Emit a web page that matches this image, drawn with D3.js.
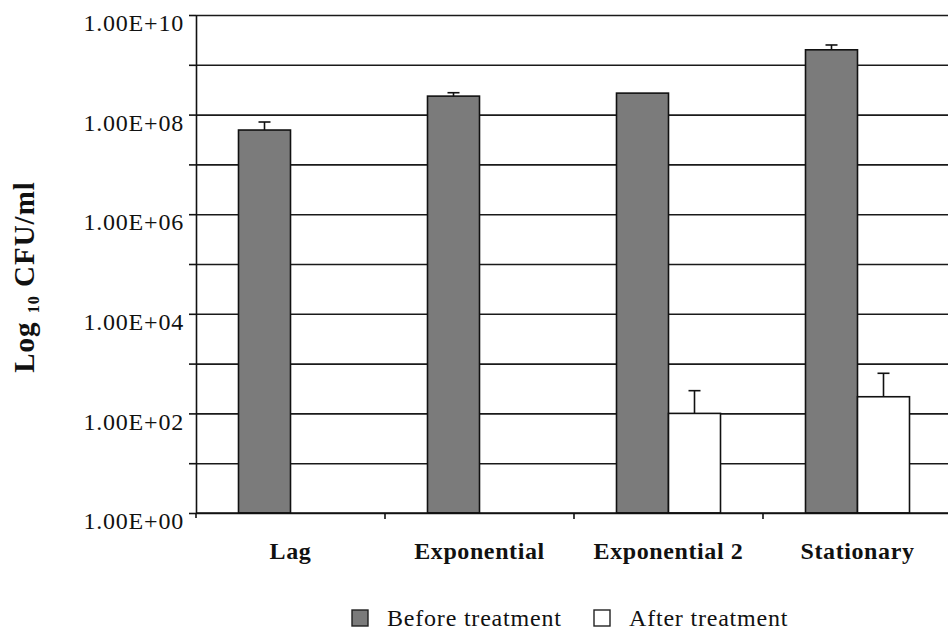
<!DOCTYPE html>
<html lang="en">
<head>
  <meta charset="UTF-8">
  <title>Log10 CFU/ml before and after treatment</title>
  <script src="https://d3js.org/d3.v7.min.js"></script>
  <style>
    html, body { margin: 0; padding: 0; background: #fff; }
    svg { display: block; }
  </style>
</head>
<body>
  <div id="chart"></div>

  <script>
    // Growth phases
    const categories = ['Lag', 'Exponential', 'Exponential 2', 'Stationary'];

    // Series (CFU/ml), null = nothing recovered
    const seriesNames = ['Before treatment', 'After treatment'];
    const beforeValues = [4.9e7, 2.35e8, 2.7e8, 2.0e9];
    const beforeErrors = [2.2e7, 4.0e7, 0, 5.0e8];
    const afterValues = [null, null, 100, 216];
    const afterErrors = [null, null, 186, 423];

    // Axis ticks (every decade, labels on even decades)
    const yTicks = [1, 1e1, 1e2, 1e3, 1e4, 1e5, 1e6, 1e7, 1e8, 1e9, 1e10];
    const yTickLabels = ['1.00E+00', '', '1.00E+02', '', '1.00E+04', '', '1.00E+06', '', '1.00E+08', '', '1.00E+10'];

    function renderChart() {
      const W = 948, H = 632;
      const left = 196, right = 952, top = 15, bottom = 513;

      const svg = d3.select('#chart')
        .append('svg')
        .attr('width', W)
        .attr('height', H)
        .attr('viewBox', `0 0 ${W} ${H}`)
        .style('font-family', '"Liberation Serif", "Times New Roman", serif');

      const x = d3.scaleBand().domain(categories).range([left, right]).padding(0);
      const groupW = 104;
      const xs = d3.scaleBand().domain(seriesNames).range([0, groupW]).padding(0);
      const y = d3.scaleLog().domain([1, 1e10]).range([bottom, top]);

      // gridlines
      svg.append('g')
        .attr('transform', `translate(${left},0)`)
        .call(d3.axisLeft(y).tickValues(yTicks).tickSize(-(right - left)).tickFormat(''))
        .call(g => g.select('.domain').remove())
        .call(g => g.selectAll('line').attr('stroke', '#1a1a1a').attr('stroke-width', 1.6));

      // bars
      const rows = categories.map((c, i) => ({
        cat: c,
        vals: [
          { s: seriesNames[0], v: beforeValues[i], e: beforeErrors[i] },
          { s: seriesNames[1], v: afterValues[i], e: afterErrors[i] }
        ]
      }));

      const fills = { 'Before treatment': '#7b7b7b', 'After treatment': '#ffffff' };

      const groups = svg.append('g').selectAll('g')
        .data(rows)
        .join('g')
        .attr('transform', d => `translate(${x(d.cat) + (x.bandwidth() - groupW) / 2},0)`);

      groups.selectAll('rect')
        .data(d => d.vals.filter(v => v.v != null))
        .join('rect')
        .attr('x', d => xs(d.s))
        .attr('y', d => y(d.v))
        .attr('width', xs.bandwidth())
        .attr('height', d => bottom - y(d.v))
        .attr('fill', d => fills[d.s])
        .attr('stroke', '#111')
        .attr('stroke-width', 1.6);

      // error bars (upper only)
      const errs = groups.selectAll('g.err')
        .data(d => d.vals.filter(v => v.v != null && v.e))
        .join('g')
        .attr('class', 'err');
      errs.append('line')
        .attr('x1', d => xs(d.s) + xs.bandwidth() / 2)
        .attr('x2', d => xs(d.s) + xs.bandwidth() / 2)
        .attr('y1', d => y(d.v))
        .attr('y2', d => y(d.v + d.e))
        .attr('stroke', '#111').attr('stroke-width', 1.6);
      errs.append('line')
        .attr('x1', d => xs(d.s) + xs.bandwidth() / 2 - 6)
        .attr('x2', d => xs(d.s) + xs.bandwidth() / 2 + 6)
        .attr('y1', d => y(d.v + d.e))
        .attr('y2', d => y(d.v + d.e))
        .attr('stroke', '#111').attr('stroke-width', 1.6);

      // y axis
      svg.append('g')
        .attr('transform', `translate(${left},0)`)
        .call(d3.axisLeft(y).tickValues(yTicks).tickSize(7).tickSizeOuter(0)
          .tickFormat((d, i) => yTickLabels[i]))
        .call(g => g.select('.domain').attr('stroke', '#111').attr('stroke-width', 1.6))
        .call(g => g.selectAll('line').attr('stroke', '#111').attr('stroke-width', 1.6))
        .call(g => g.selectAll('text')
          .attr('x', -12)
          .attr('dy', '0.65em')
          .attr('fill', '#111')
          .attr('font-size', '24px')
          .attr('letter-spacing', '0.8px')
          .style('font-family', '"Liberation Serif", "Times New Roman", serif'));

      // extend y axis a little below the x axis
      svg.append('line')
        .attr('x1', left).attr('x2', left)
        .attr('y1', bottom).attr('y2', bottom + 5)
        .attr('stroke', '#111').attr('stroke-width', 1.6);

      // x axis with ticks at category boundaries
      svg.append('line')
        .attr('x1', left).attr('x2', right)
        .attr('y1', bottom).attr('y2', bottom)
        .attr('stroke', '#111').attr('stroke-width', 1.6);
      svg.append('g').selectAll('line')
        .data(categories.slice(1))
        .join('line')
        .attr('x1', d => x(d)).attr('x2', d => x(d))
        .attr('y1', bottom).attr('y2', bottom + 6)
        .attr('stroke', '#111').attr('stroke-width', 1.6);

      svg.append('g').selectAll('text')
        .data(categories)
        .join('text')
        .attr('x', d => x(d) + x.bandwidth() / 2)
        .attr('y', 559)
        .attr('text-anchor', 'middle')
        .attr('font-size', '24px')
        .attr('font-weight', 'bold')
        .attr('letter-spacing', '0.6px')
        .attr('fill', '#111')
        .text(d => d);

      // y axis title
      const title = svg.append('text')
        .attr('transform', 'translate(34,277) rotate(-90)')
        .attr('text-anchor', 'middle')
        .attr('font-size', '29px')
        .attr('font-weight', 'bold')
        .attr('letter-spacing', '1px')
        .attr('fill', '#111');
      title.append('tspan').text('Log ');
      title.append('tspan').attr('font-size', '16px').attr('dy', 5).text('10');
      title.append('tspan').attr('dy', -5).text(' CFU/ml');

      // legend
      const legendItems = [
        { name: seriesNames[0], x: 352 },
        { name: seriesNames[1], x: 594 }
      ];
      const lg = svg.append('g').selectAll('g')
        .data(legendItems)
        .join('g')
        .attr('transform', d => `translate(${d.x},610)`);
      lg.append('rect')
        .attr('width', 16).attr('height', 16)
        .attr('fill', d => fills[d.name])
        .attr('stroke', '#222').attr('stroke-width', 1.4);
      lg.append('text')
        .attr('x', 35)
        .attr('y', 16)
        .attr('font-size', '24px')
        .attr('letter-spacing', '0.8px')
        .attr('fill', '#111')
        .text(d => d.name);
    }

    document.addEventListener('DOMContentLoaded', renderChart);
  </script>
</body>
</html>
